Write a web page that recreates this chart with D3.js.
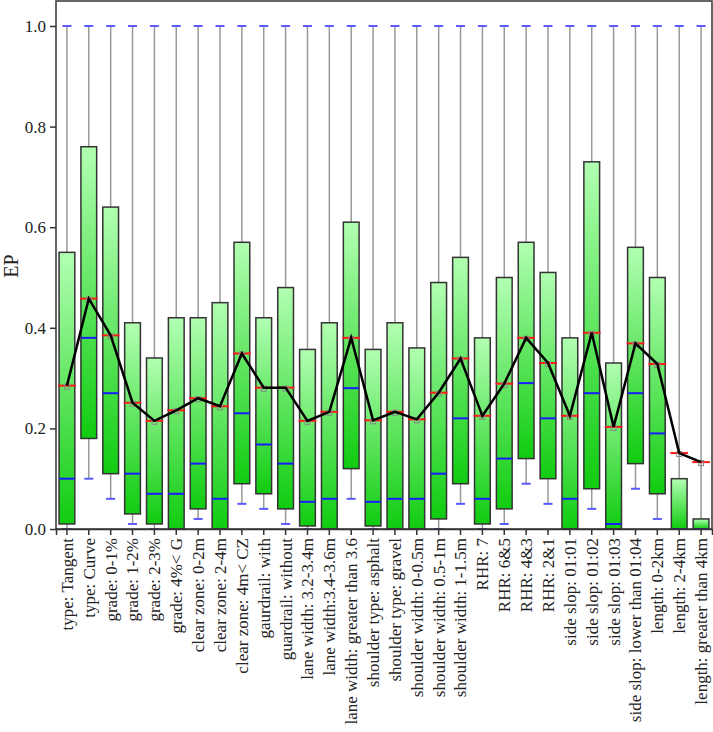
<!DOCTYPE html>
<html>
<head>
<meta charset="utf-8">
<script src="https://cdn.jsdelivr.net/npm/d3@7"></script>
<style>
  html, body { margin: 0; padding: 0; background: #fff; }
  svg { display: block; }
</style>
</head>
<body>
<svg id="chart" width="713" height="732"></svg>
<script>
const categories = [
  "type: Tangent", "type: Curve", "grade: 0-1%", "grade: 1-2%", "grade: 2-3%", "grade: 4%< G",
  "clear zone: 0-2m", "clear zone: 2-4m", "clear zone: 4m< CZ", "gaurdrail: with", "guardrail: without",
  "lane width: 3.2-3.4m", "lane width:3.4-3.6m", "lane width: greater than 3.6",
  "shoulder type: asphalt", "shoulder type: gravel", "shoulder width: 0-0.5m", "shoulder width: 0.5-1m",
  "shoulder width: 1-1.5m", "RHR: 7", "RHR: 6&5", "RHR: 4&3", "RHR: 2&1",
  "side slop: 01:01", "side slop: 01:02", "side slop: 01:03", "side slop: lower than 01:04",
  "length: 0-2km", "length: 2-4km", "length: greater than 4km"
];
const whiskerLow = [0.00, 0.10, 0.06, 0.01, 0.00, 0.00, 0.02, 0.00, 0.05, 0.04, 0.01, 0.00, 0.00, 0.06,
  0.00, 0.00, 0.00, 0.00, 0.05, 0.00, 0.01, 0.09, 0.05, 0.00, 0.04, 0.00, 0.08, 0.02, 0.00, 0.00];
const q1 = [0.01, 0.18, 0.11, 0.03, 0.01, 0.00, 0.04, 0.00, 0.09, 0.07, 0.04, 0.006, 0.00, 0.12,
  0.006, 0.00, 0.00, 0.02, 0.09, 0.01, 0.04, 0.14, 0.10, 0.00, 0.08, 0.00, 0.13, 0.07, 0.00, 0.00];
const medians = [0.10, 0.38, 0.27, 0.11, 0.07, 0.07, 0.13, 0.06, 0.23, 0.168, 0.13, 0.054, 0.06, 0.28,
  0.054, 0.06, 0.06, 0.11, 0.22, 0.06, 0.14, 0.29, 0.22, 0.06, 0.27, 0.01, 0.27, 0.19, 0.00, 0.00];
const means = [0.285, 0.458, 0.385, 0.251, 0.215, 0.236, 0.26, 0.244, 0.349, 0.281, 0.281, 0.215, 0.233, 0.38,
  0.216, 0.233, 0.218, 0.271, 0.339, 0.225, 0.289, 0.38, 0.33, 0.225, 0.39, 0.203, 0.369, 0.328, 0.151, 0.133];
const q3 = [0.55, 0.76, 0.64, 0.41, 0.34, 0.42, 0.42, 0.45, 0.57, 0.42, 0.48, 0.357, 0.41, 0.61,
  0.357, 0.41, 0.36, 0.49, 0.54, 0.38, 0.50, 0.57, 0.51, 0.38, 0.73, 0.33, 0.56, 0.50, 0.10, 0.02];
const whiskerHigh = [1,1,1,1,1,1,1,1,1,1,1,1,1,1,1,1,1,1,1,1,1,1,1,1,1,1,1,1,1,1];
const yTicks = [0, 0.2, 0.4, 0.6, 0.8, 1.0];

const data = categories.map((c, i) => ({
  cat: c, lo: whiskerLow[i], q1: q1[i], med: medians[i], mean: means[i], q3: q3[i], hi: whiskerHigh[i]
}));

const svg = d3.select("#chart");
const mLeft = 56, mRight = 712, mTop = 1, mBottom = 529;

const x = d3.scaleBand().domain(categories).range([mLeft, mRight]).padding(0);
const y = d3.scaleLinear().domain([0, 1]).range([mBottom, 26]);

const defs = svg.append("defs");
const grad = defs.append("linearGradient").attr("id", "boxGrad")
  .attr("x1", 0).attr("y1", 0).attr("x2", 0).attr("y2", 1);
grad.append("stop").attr("offset", "0%").attr("stop-color", "#b2ffb2");
grad.append("stop").attr("offset", "100%").attr("stop-color", "#10cc10");

const bw = x.bandwidth() * 0.72;
const cx = d => x(d.cat) + x.bandwidth() / 2;

const g = svg.append("g");

// whiskers
g.selectAll("line.wh").data(data).join("line")
  .attr("x1", cx).attr("x2", cx)
  .attr("y1", d => y(d.hi)).attr("y2", d => y(d.lo))
  .attr("stroke", "#999").attr("stroke-width", 1.5);

// caps
const capW = 9;
g.selectAll("line.capHi").data(data).join("line")
  .attr("x1", d => cx(d) - capW / 2).attr("x2", d => cx(d) + capW / 2)
  .attr("y1", d => y(d.hi)).attr("y2", d => y(d.hi))
  .attr("stroke", "#5a5aff").attr("stroke-width", 2);
g.selectAll("line.capLo").data(data.filter(d => d.lo < d.q1)).join("line")
  .attr("x1", d => cx(d) - capW / 2).attr("x2", d => cx(d) + capW / 2)
  .attr("y1", d => y(d.lo)).attr("y2", d => y(d.lo))
  .attr("stroke", "#5a5aff").attr("stroke-width", 2);

// boxes
g.selectAll("rect.box").data(data).join("rect")
  .attr("x", d => cx(d) - bw / 2).attr("width", bw)
  .attr("y", d => y(d.q3)).attr("height", d => Math.max(0, y(d.q1) - y(d.q3)))
  .attr("fill", "url(#boxGrad)").attr("stroke", "#333").attr("stroke-width", 1.5);

// medians
g.selectAll("line.med").data(data).join("line")
  .attr("x1", d => cx(d) - bw / 2).attr("x2", d => cx(d) + bw / 2)
  .attr("y1", d => y(d.med)).attr("y2", d => y(d.med))
  .attr("stroke", "#1a1aff").attr("stroke-width", 2);

// mean red lines
g.selectAll("line.mean").data(data).join("line")
  .attr("x1", d => cx(d) - bw / 2 - 1).attr("x2", d => cx(d) + bw / 2 + 1)
  .attr("y1", d => y(d.mean)).attr("y2", d => y(d.mean))
  .attr("stroke", "#ff1a1a").attr("stroke-width", 2);

// mean markers
g.selectAll("rect.mk").data(data).join("rect")
  .attr("x", d => cx(d) - 2.5).attr("y", d => y(d.mean) - 1.5)
  .attr("width", 5).attr("height", 5)
  .attr("fill", "none").attr("stroke", "#888").attr("stroke-width", 1);

// mean line
g.append("path").datum(data)
  .attr("d", d3.line().x(cx).y(d => y(d.mean)))
  .attr("fill", "none").attr("stroke", "#000").attr("stroke-width", 2.5)
  .attr("stroke-linejoin", "miter");

// frame
svg.append("rect").attr("x", mLeft).attr("y", mTop).attr("width", mRight - mLeft).attr("height", mBottom - mTop)
  .attr("fill", "none").attr("stroke", "#333").attr("stroke-width", 1.5);

// y axis
const yAxis = svg.append("g").attr("transform", `translate(${mLeft},0)`)
  .call(d3.axisLeft(y).tickValues(yTicks).tickFormat(d3.format(".1f")).tickSize(6).tickPadding(4));
yAxis.select(".domain").remove();
yAxis.selectAll("line").attr("stroke", "#333").attr("stroke-width", 1.5);
yAxis.selectAll("text").attr("font-family", "Liberation Serif, Times New Roman, serif")
  .attr("font-size", 17).attr("fill", "#222");

// x axis
const xAxis = svg.append("g").attr("transform", `translate(0,${mBottom})`)
  .call(d3.axisBottom(x).tickSize(6).tickPadding(4));
xAxis.select(".domain").attr("stroke", "#333").attr("stroke-width", 1.5);
xAxis.selectAll("line").attr("stroke", "#333").attr("stroke-width", 1.5);
xAxis.selectAll("text")
  .attr("font-family", "Liberation Serif, Times New Roman, serif")
  .attr("font-size", 17).attr("fill", "#222")
  .attr("text-anchor", "end")
  .attr("transform", "rotate(-90)")
  .attr("x", -9).attr("y", 0).attr("dy", "0.35em");

// y label
svg.append("text").attr("transform", `translate(18,266) rotate(-90)`)
  .attr("text-anchor", "middle")
  .attr("font-family", "Liberation Serif, Times New Roman, serif")
  .attr("font-size", 20).attr("fill", "#222").text("EP");
</script>
</body>
</html>
